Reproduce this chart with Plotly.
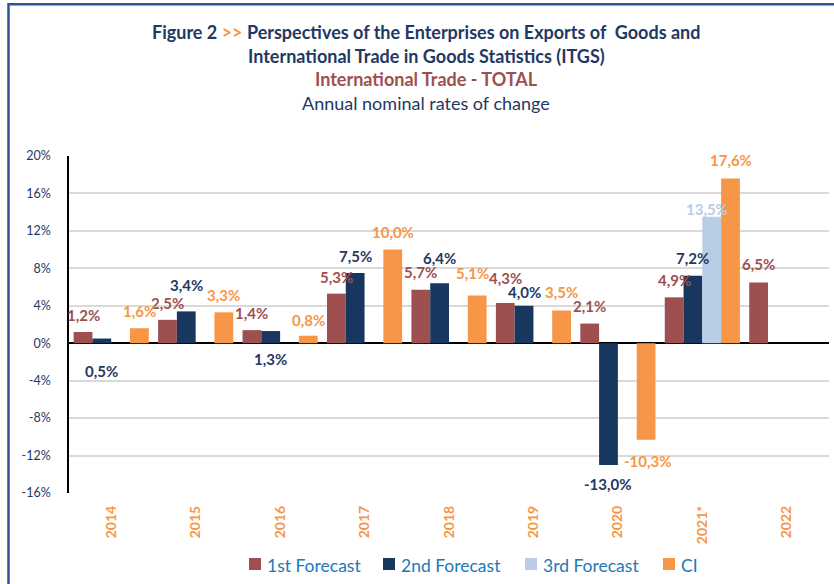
import plotly.graph_objects as go

# ---- data ----
years = ["2014", "2015", "2016", "2017", "2018", "2019", "2020", "2021*", "2022"]
first_forecast = [1.2, 2.5, 1.4, 5.3, 5.7, 4.3, 2.1, 4.9, 6.5]
second_forecast = [0.5, 3.4, 1.3, 7.5, 6.4, 4.0, -13.0, 7.2, None]
third_forecast = [None, None, None, None, None, None, None, 13.5, None]
ci = [1.6, 3.3, 0.8, 10.0, 5.1, 3.5, -10.3, 17.6, None]
y_ticks = [-16, -12, -8, -4, 0, 4, 8, 12, 16, 20]
y_tick_labels = [f"{v}%" for v in y_ticks]

# ---- label nudges (pixels, relative to the end of each bar) ----
dy_first = [17, 17, 17, 17, 18, 25, 18, 17, 18]
dy_second = [-32, 26, -28, 17, 25, 14, -19, 18, 0]
dy_third = [0, 0, 0, 0, 0, 0, 0, 8, 0]
dy_ci = [17, 17, 16, 18, 22, 18, -21, 18, 0]
dx_third = [0, 0, 0, 0, 0, 0, 0, -5, 0]
dx_ci = [0, 0, 0, 0, -5, 0, 2, 0, 0]

FONT = "Lato"
NAVY = "#1f3864"
BROWN = "#9e5050"
BAR_NAVY = "#17375e"
LIGHT = "#b9cde5"
ORANGE = "#f79646"
LEGEND_TXT = "#2179b5"

BARGAP = 0.11
series = [
    ("1st Forecast", first_forecast, BROWN, BROWN, dy_first, [0] * 9),
    ("2nd Forecast", second_forecast, BAR_NAVY, NAVY, dy_second, [0] * 9),
    ("3rd Forecast", third_forecast, LIGHT, LIGHT, dy_third, dx_third),
    ("CI", ci, ORANGE, ORANGE, dy_ci, dx_ci),
]

# plot-area geometry (pixels)
PLOT_L, PLOT_W = 69, 760
PLOT_TOP, PLOT_H = 156, 337


def px_x(xpx):
    return (xpx - PLOT_L) / PLOT_W


def px_y(ypx):
    return (PLOT_TOP + PLOT_H - ypx) / PLOT_H


xs = list(range(len(years)))
fig = go.Figure()
annotations = []
shapes = []
nser = len(series)
w = (1 - BARGAP) / nser
for k, (name, vals, color, lcolor, dys, dxs) in enumerate(series):
    fig.add_trace(go.Bar(
        x=xs, y=vals, name=name, showlegend=False,
        marker=dict(color=color, line=dict(width=0)),
    ))
    for i, v in enumerate(vals):
        if v is None:
            continue
        label = f"{v:.1f}".replace(".", ",") + "%"
        annotations.append(dict(
            x=i + (k - (nser - 1) / 2) * w, y=v, xref="x", yref="y",
            text=f"<b>{label}</b>", showarrow=False,
            font=dict(family=FONT, size=15, color=lcolor),
            xanchor="center", yanchor="middle",
            yshift=dys[i], xshift=dxs[i],
        ))

# title lines
title_lines = [
    (32, f"<b>Figure 2 <span style='color:{ORANGE}'>&gt;&gt;</span> Perspectives of the Enterprises on Exports of  Goods and</b>", NAVY),
    (56, "<b>International Trade in Goods Statistics (ITGS)</b>", NAVY),
    (79, "<b>International Trade - TOTAL</b>", BROWN),
    (103, "Annual nominal rates of change", NAVY),
]
for ypx, txt, col in title_lines:
    annotations.append(dict(
        x=px_x(426), y=px_y(ypx), xref="paper", yref="paper",
        text=txt, showarrow=False, xanchor="center", yanchor="middle",
        font=dict(family=FONT, size=18, color=col),
    ))

# custom legend (square + text)
legend_items = [("1st Forecast", BROWN, 249), ("2nd Forecast", BAR_NAVY, 383),
                ("3rd Forecast", LIGHT, 525), ("CI", ORANGE, 663)]
for name, col, x0 in legend_items:
    shapes.append(dict(
        type="rect", xref="paper", yref="paper",
        x0=px_x(x0), x1=px_x(x0 + 12), y0=px_y(570), y1=px_y(558),
        fillcolor=col, line=dict(width=0),
    ))
    annotations.append(dict(
        x=px_x(x0 + 16), y=px_y(565), xref="paper", yref="paper",
        text=name, showarrow=False, xanchor="left", yanchor="middle",
        font=dict(family=FONT, size=17.5, color=LEGEND_TXT),
    ))

# outer frame
shapes.append(dict(
    type="rect", xref="paper", yref="paper",
    x0=px_x(8.5), x1=1.2, y0=-0.5, y1=px_y(4.3),
    line=dict(color="#2f5597", width=2.5), layer="above",
))

fig.update_layout(
    width=834, height=584,
    margin=dict(l=PLOT_L, r=834 - PLOT_L - PLOT_W, t=PLOT_TOP,
                b=584 - PLOT_TOP - PLOT_H, autoexpand=False),
    paper_bgcolor="white", plot_bgcolor="white",
    barmode="group", bargap=BARGAP, bargroupgap=0,
    font=dict(family=FONT, color=NAVY),
    annotations=annotations,
    shapes=shapes,
    showlegend=False,
)
fig.update_xaxes(
    range=[-0.5, len(years) - 0.5], tickmode="array", tickvals=xs, ticktext=years,
    tickangle=-90, tickfont=dict(family=FONT, size=14, color=ORANGE, weight="bold"),
    showgrid=False, zeroline=False, showline=False, ticks="", ticklabelstandoff=9,
)
fig.update_yaxes(
    range=[-16, 20], tickmode="array", tickvals=y_ticks, ticktext=y_tick_labels,
    tickfont=dict(family=FONT, size=12.5, color=NAVY),
    showgrid=True, gridcolor="#d9d9d9", gridwidth=1.5,
    zeroline=True, zerolinecolor="black", zerolinewidth=1.5,
    showline=True, linecolor="black", linewidth=1.5,
    ticks="", ticklabelstandoff=14,
)

fig.write_html("out.html", config={"displayModeBar": False},
               post_script="document.body.style.margin='0';document.body.style.overflow='hidden';")
